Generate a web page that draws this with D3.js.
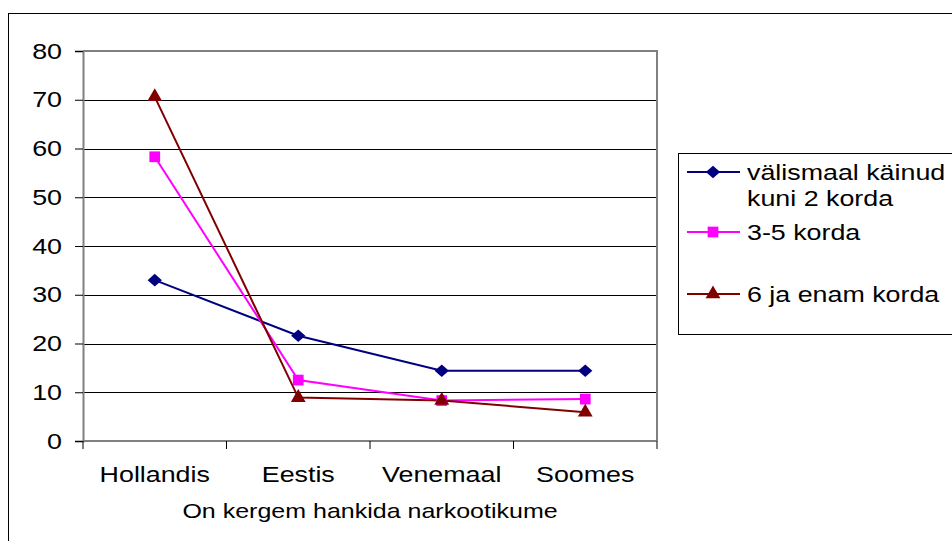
<!DOCTYPE html>
<html>
<head>
<meta charset="utf-8">
<script src="https://cdn.jsdelivr.net/npm/d3@7"></script>
<style>
  html, body { margin: 0; padding: 0; background: #fff; }
  svg { display: block; font-family: Arial, "Liberation Sans", sans-serif; }
</style>
</head>
<body>
<svg id="chart" width="952" height="541"></svg>
<script>
// Categories (places) and the three series of values (%)
const categories = ["Hollandis", "Eestis", "Venemaal", "Soomes"];
const seriesNames = ["välismaal käinud\nkuni 2 korda", "3-5 korda", "6 ja enam korda"];
const valuesKuni2 = [33.0, 21.6, 14.4, 14.4];
const values3to5 = [58.3, 12.5, 8.3, 8.6];
const values6plus = [70.6, 8.9, 8.3, 5.9];
const yTicks = [0, 10, 20, 30, 40, 50, 60, 70, 80];
const axisTitle = "On kergem hankida narkootikume";

// Wide diamond marker (Excel style)
const wideDiamond = {
  draw(ctx, size) {
    const w = Math.sqrt(size) * 0.68, h = Math.sqrt(size) * 0.6;
    ctx.moveTo(0, -h); ctx.lineTo(w, 0); ctx.lineTo(0, h); ctx.lineTo(-w, 0); ctx.closePath();
  }
};

const colors = ["#000080", "#FF00FF", "#800000"];
const symbols = [wideDiamond, d3.symbolSquare, d3.symbolTriangle];
const symbolSizes = [110, 115, 95];
const series = [valuesKuni2, values3to5, values6plus];

const svg = d3.select("#chart");
const SX = 1.22; // horizontal text stretch

function stretchedText(g, x, y, str, size, anchor) {
  return g.append("text")
    .attr("transform", `translate(${x},${y}) scale(${SX},1)`)
    .attr("font-size", size)
    .attr("text-anchor", anchor)
    .attr("dominant-baseline", "central")
    .attr("fill", "#000")
    .text(str);
}

// Outer chart frame
svg.append("rect")
  .attr("x", 8.5).attr("y", 13.5)
  .attr("width", 960).attr("height", 560)
  .attr("fill", "#fff").attr("stroke", "#000").attr("stroke-width", 1);

const plot = { left: 83, right: 657, top: 51, bottom: 441 };

const x = d3.scaleBand().domain(categories).range([plot.left, plot.right]);
const y = d3.scaleLinear().domain([0, 80]).range([plot.bottom, plot.top]);

const g = svg.append("g");

// Horizontal gridlines
g.selectAll("line.grid")
  .data(yTicks.filter(t => t > 0 && t < 80))
  .join("line")
  .attr("x1", plot.left).attr("x2", plot.right)
  .attr("y1", d => Math.round(y(d)) + 0.5).attr("y2", d => Math.round(y(d)) + 0.5)
  .attr("stroke", "#000").attr("stroke-width", 1);

// Plot area border (top & right)
g.append("path")
  .attr("d", `M${plot.left},${y(80)}H${plot.right}V${plot.bottom}`)
  .attr("fill", "none").attr("stroke", "#808080").attr("stroke-width", 2);

// Y axis
const yAxis = d3.axisLeft(y).tickValues(yTicks).tickSize(8).tickPadding(13);
const yg = g.append("g").attr("transform", `translate(${plot.left},0)`).call(yAxis);
yg.select(".domain").attr("stroke", "#808080").attr("stroke-width", 2);
yg.selectAll(".tick line").attr("stroke", "#000").attr("stroke-width", 1);
yg.selectAll(".tick text").remove();
yTicks.forEach(t => stretchedText(g, plot.left - 21, y(t), String(t), 22, "end"));

// X axis (ticks at category boundaries)
const bounds = categories.map(c => x(c)).concat([plot.right]);
const xg = g.append("g").attr("transform", `translate(0,${plot.bottom})`);
xg.append("line")
  .attr("x1", plot.left).attr("x2", plot.right)
  .attr("y1", 0).attr("y2", 0)
  .attr("stroke", "#808080").attr("stroke-width", 2);
xg.selectAll("line.tk").data(bounds).join("line")
  .attr("x1", d => d).attr("x2", d => d)
  .attr("y1", 0).attr("y2", 8)
  .attr("stroke", "#000").attr("stroke-width", 1);
categories.forEach(c => stretchedText(g, x(c) + x.bandwidth() / 2, 474, c, 22, "middle"));

// Axis title
stretchedText(g, (plot.left + plot.right) / 2, 511, axisTitle, 20.5, "middle");

// Lines and markers
const line = d3.line()
  .x((d, i) => x(categories[i]) + x.bandwidth() / 2)
  .y(d => y(d));

series.forEach((vals, s) => {
  g.append("path")
    .datum(vals)
    .attr("d", line)
    .attr("fill", "none")
    .attr("stroke", colors[s])
    .attr("stroke-width", 2);
});
series.forEach((vals, s) => {
  g.selectAll(null).data(vals).join("path")
    .attr("transform", (d, i) => `translate(${x(categories[i]) + x.bandwidth() / 2},${y(d)})`)
    .attr("d", d3.symbol().type(symbols[s]).size(symbolSizes[s]))
    .attr("fill", colors[s]);
});

// Legend
const lg = svg.append("g");
lg.append("rect")
  .attr("x", 678.5).attr("y", 153.5)
  .attr("width", 300).attr("height", 181)
  .attr("fill", "#fff").attr("stroke", "#000").attr("stroke-width", 1);

const legendRows = [172, 232, 294];
seriesNames.forEach((name, s) => {
  const ly = legendRows[s];
  lg.append("line")
    .attr("x1", 687).attr("x2", 740)
    .attr("y1", ly).attr("y2", ly)
    .attr("stroke", colors[s]).attr("stroke-width", 2);
  lg.append("path")
    .attr("transform", `translate(713,${ly})`)
    .attr("d", d3.symbol().type(symbols[s]).size(symbolSizes[s]))
    .attr("fill", colors[s]);
  name.split("\n").forEach((part, k) => {
    stretchedText(lg, 747, ly + k * 26, part, 22, "start");
  });
});
</script>
</body>
</html>
